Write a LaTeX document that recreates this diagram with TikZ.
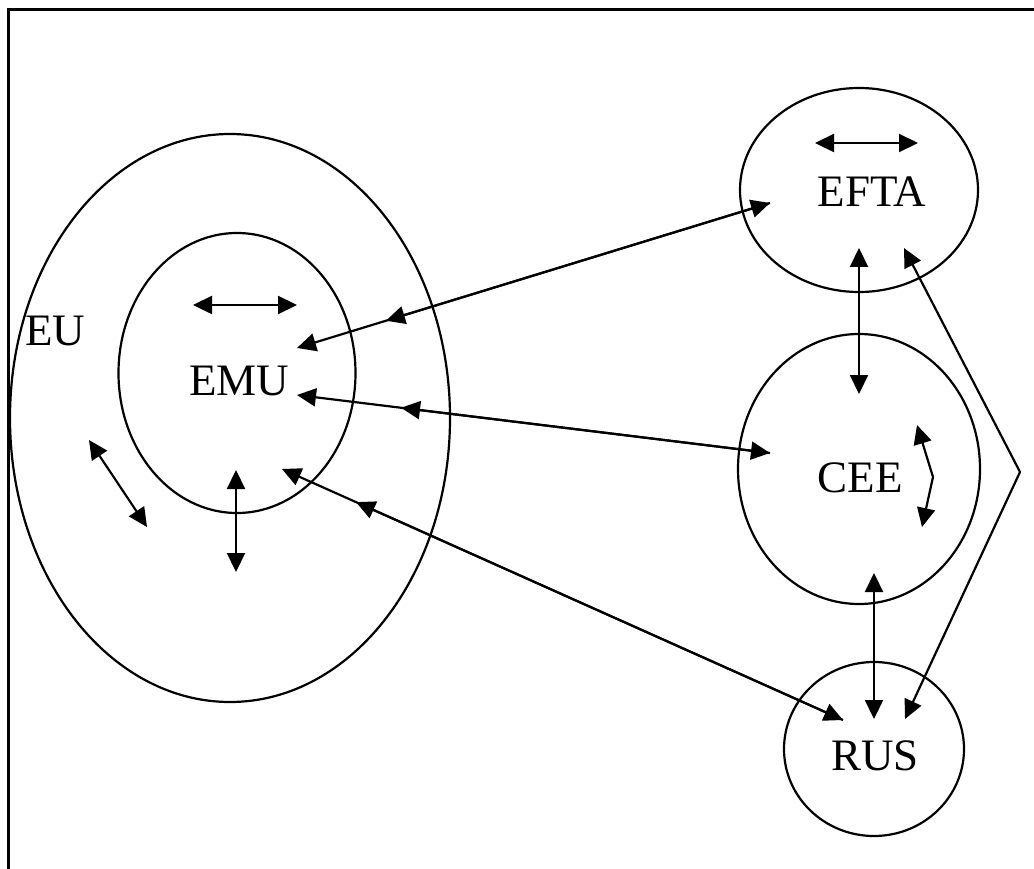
\documentclass[tikz,border=0pt]{standalone}
\usepackage{fontspec}
\setmainfont{Liberation Serif}
\usetikzlibrary{arrows.meta,shapes.geometric,calc}
\begin{document}
\begin{tikzpicture}[x=1pt,y=-1pt,
  ring/.style={draw,ellipse,line width=2.2pt,inner sep=0pt},
  lbl/.style={inner sep=0pt,anchor=base,font=\fontsize{45}{54}\selectfont},
  link/.style={line width=2.2pt,{Triangle[length=19pt,width=18pt]}-{Triangle[length=19pt,width=18pt]}},
  half/.style={line width=2.2pt,-{Triangle[length=19pt,width=18pt]}}]
\useasboundingbox (0,0) rectangle (1034,869);
% frame
\coordinate (fa) at (8,869);
\coordinate (fb) at (8,10);
\coordinate (fc) at (1034,10);
\draw[line width=3pt] (fa) -- (fb) -- (fc);
% ellipses
\node[ring,minimum width=440pt,minimum height=568pt] (eu) at (230,418) {};
\node[ring,minimum width=237pt,minimum height=280pt] (emu) at (237,373) {};
\node[ring,minimum width=238pt,minimum height=204pt] (efta) at (859,190) {};
\node[ring,minimum width=242pt,minimum height=270pt] (cee) at (859,469) {};
\node[ring,minimum width=180pt,minimum height=174pt] (rus) at (874,749) {};
% labels
\node[lbl] (eut) at (55,345) {EU};
\node[lbl] (emut) at (239,395) {EMU};
\node[lbl] (eftat) at (872,207) {EFTA};
\node[lbl] (ceet) at (860,492) {CEE};
\node[lbl] (rust) at (875,770) {RUS};
% arrow ends
\coordinate (a1) at (815,143); \coordinate (a2) at (918,143);
\coordinate (b1) at (193,305); \coordinate (b2) at (297,305);
\coordinate (c1) at (89,440); \coordinate (c2) at (147,527);
\coordinate (d1) at (236,470); \coordinate (d2) at (236,572);
\coordinate (e1) at (859,248); \coordinate (e2) at (859,394);
\coordinate (f1) at (904,248); \coordinate (fk) at (1020,472); \coordinate (f2) at (905,719);
\coordinate (g1) at (917,425); \coordinate (gk) at (933,477); \coordinate (g2) at (922,527);
\coordinate (h1) at (874,573); \coordinate (h2) at (874,719);
\coordinate (i1) at (297,348); \coordinate (i2) at (770,203);
\coordinate (j1) at (297,395); \coordinate (j2) at (770,453);
\coordinate (k1) at (282,469); \coordinate (k2) at (843,720);
% arrows
\draw[link] (a1) -- (a2);
\draw[link] (b1) -- (b2);
\draw[link] (c1) -- (c2);
\draw[link] (d1) -- (d2);
\draw[link] (e1) -- (e2);
\draw[link] (f1) -- (fk) -- (f2);
\draw[link] (g1) -- (gk) -- (g2);
\draw[link] (h1) -- (h2);
\draw[link] (i1) -- (i2);
\draw[half] (i2) -- ($(i2)!0.812!(i1)$);
\draw[link] (j1) -- (j2);
\draw[half] (j2) -- ($(j2)!0.780!(j1)$);
\draw[link] (k1) -- (k2);
\draw[half] (k2) -- ($(k2)!0.868!(k1)$);
\end{tikzpicture}
\end{document}
